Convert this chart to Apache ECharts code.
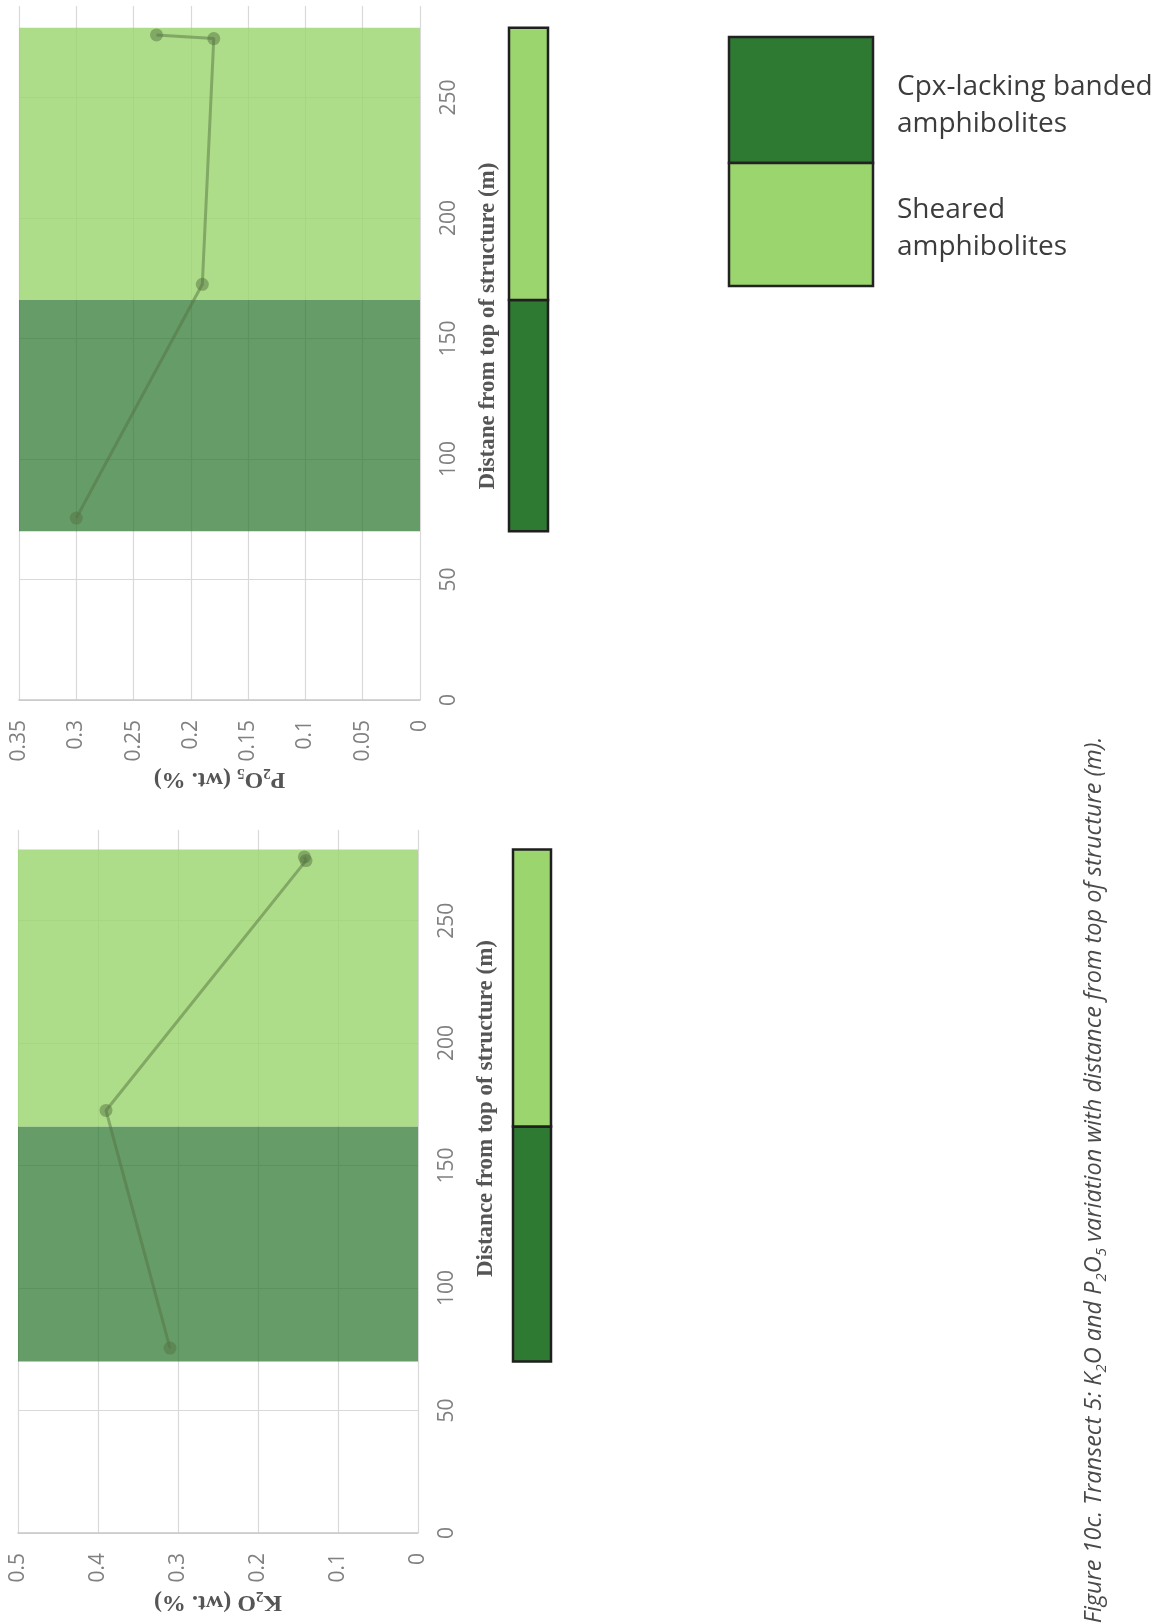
<!DOCTYPE html>
<html>
<head>
<meta charset="utf-8">
<title>Transect 5: K2O and P2O5 vs distance</title>
<script src="https://cdn.jsdelivr.net/npm/echarts@6/dist/echarts.min.js"></script>
<style>
html, body { margin: 0; padding: 0; background: #fff; }
#chart { width: 1169px; height: 1623px; }
</style>
</head>
<body>
<div id="chart"></div>
<script>
// samples along transect 5 (m from top of structure) and oxide contents (wt. %)
var distance = [75.5, 172.5, 274.5, 276];
var k2o = [0.31, 0.39, 0.14, 0.142];
var p2o5 = [0.30, 0.19, 0.18, 0.23];

// lithological units crossed by the transect
var unitNames = ['Cpx-lacking banded amphibolites', 'Sheared amphibolites'];
var unitFrom = [70, 166];
var unitTo = [166, 279];

// axis ticks
var distTicks = [0, 50, 100, 150, 200, 250];
var p2o5Ticks = [0, 0.05, 0.1, 0.15, 0.2, 0.25, 0.3, 0.35];
var k2oTicks = [0, 0.1, 0.2, 0.3, 0.4, 0.5];

var unitColors = ['#2e7a32', '#9bd56e'];
var unitFill = ['rgba(47,122,51,0.74)', 'rgba(155,213,110,0.82)'];
var lineColor = 'rgba(85,115,65,0.5)';
var labelFont = 'Open Sans';
var titleFont = 'Liberation Serif';

var chart = echarts.init(document.getElementById('chart'));

var titleRich = {
  n: { fontFamily: titleFont, fontWeight: 'bold', fontSize: 24, color: '#555', lineHeight: 28 },
  s: { fontFamily: titleFont, fontWeight: 'bold', fontSize: 15, color: '#555', lineHeight: 12, verticalAlign: 'bottom' }
};

// one panel per oxide: plot grid + lithology bar grid
var panels = [
  { plot: { left: 19, top: 6, width: 401, height: 694 }, bar: { left: 509, top: 6, width: 39, height: 694 },
    ticks: p2o5Ticks, distMax: 288, values: p2o5, valueGap: 61, titlePad: 54,
    name: '{n|P}{s|2}{n|O}{s|5}{n| (wt. %)}', distName: 'Distane from top of structure (m)' },
  { plot: { left: 18, top: 830, width: 400, height: 703 }, bar: { left: 513, top: 830, width: 38, height: 703 },
    ticks: k2oTicks, distMax: 287, values: k2o, valueGap: 55, titlePad: 146,
    name: '{n|K}{s|2}{n|O (wt. %)}', distName: 'Distance from top of structure (m)' }
];

var grid = [], xAxis = [], yAxis = [], series = [];

panels.forEach(function (p) {
  var gi = grid.length;
  grid.push(Object.assign({ outerBoundsMode: 'none', containLabel: false }, p.plot));
  grid.push(Object.assign({ outerBoundsMode: 'none', containLabel: false }, p.bar));

  xAxis.push({
    gridIndex: gi, type: 'value', inverse: true,
    min: p.ticks[0], max: p.ticks[p.ticks.length - 1], interval: p.ticks[1] - p.ticks[0],
    axisTick: { show: false },
    axisLine: { show: true, lineStyle: { color: '#c8c8c8', width: 1.5 } },
    splitLine: { show: true, lineStyle: { color: '#d9d9d9', width: 1.2 } },
    axisLabel: { rotate: 90, margin: 20, fontFamily: labelFont, fontSize: 21, color: '#808080' },
    name: p.name, nameLocation: 'middle', nameRotate: 180, nameGap: p.valueGap,
    nameTextStyle: { rich: titleRich }
  });
  xAxis.push({ gridIndex: gi + 1, type: 'value', min: 0, max: 1, show: false });

  yAxis.push({
    gridIndex: gi, type: 'value', position: 'right',
    min: distTicks[0], max: p.distMax, interval: distTicks[1] - distTicks[0],
    axisTick: { show: false },
    axisLine: { show: false },
    splitLine: { show: true, showMaxLine: false, lineStyle: { color: '#d9d9d9', width: 1.2 } },
    axisLabel: { rotate: 90, margin: 19, showMaxLabel: false, fontFamily: labelFont, fontSize: 21, color: '#808080' },
    name: p.distName, nameLocation: 'middle', nameRotate: 90, nameGap: 57,
    nameTextStyle: { fontFamily: titleFont, fontWeight: 'bold', fontSize: 23, color: '#555', padding: [0, 0, 0, p.titlePad] }
  });
  yAxis.push({ gridIndex: gi + 1, type: 'value', min: distTicks[0], max: p.distMax, show: false });

  // translucent unit bands in the plot
  series.push({
    type: 'line', data: [], xAxisIndex: gi, yAxisIndex: gi, z: 1, silent: true,
    markArea: {
      silent: true,
      data: unitFrom.map(function (f, j) {
        return [{ yAxis: f, itemStyle: { color: unitFill[j] } }, { yAxis: unitTo[j] }];
      })
    }
  });
  // lithology bar beside the plot
  series.push({
    type: 'line', data: [], xAxisIndex: gi + 1, yAxisIndex: gi + 1, z: 1, silent: true,
    markArea: {
      silent: true,
      data: unitFrom.map(function (f, j) {
        return [{ yAxis: f, itemStyle: { color: unitColors[j], borderColor: '#1f1f1f', borderWidth: 2.5 } }, { yAxis: unitTo[j] }];
      })
    }
  });
  // oxide profile
  series.push({
    type: 'line', xAxisIndex: gi, yAxisIndex: gi, z: 3,
    data: distance.map(function (d, i) { return [p.values[i], d]; }),
    symbol: 'circle', symbolSize: 13,
    itemStyle: { color: lineColor },
    lineStyle: { color: lineColor, width: 3 }
  });
});

var caption = '{i|Figure 10c. Transect 5: K}{s|2}{i|O and P}{s|2}{i|O}{s|5}{i| variation with distance from top of structure (m).}';

chart.setOption({
  animation: false,
  grid: grid,
  xAxis: xAxis,
  yAxis: yAxis,
  series: series,
  graphic: [
    { type: 'rect', shape: { x: 729, y: 37, width: 144, height: 126 },
      style: { fill: unitColors[0], stroke: '#222', lineWidth: 2.5 } },
    { type: 'rect', shape: { x: 729, y: 163, width: 144, height: 123 },
      style: { fill: unitColors[1], stroke: '#222', lineWidth: 2.5 } },
    { type: 'text', x: 897, y: 106,
      style: { text: unitNames[0].replace(' amphibolites', '\namphibolites'), fontFamily: labelFont, fontSize: 28,
               fill: '#3c3c3c', lineHeight: 37, verticalAlign: 'middle', align: 'left' } },
    { type: 'text', x: 897, y: 229,
      style: { text: unitNames[1].replace(' amphibolites', '\namphibolites'), fontFamily: labelFont, fontSize: 28,
               fill: '#3c3c3c', lineHeight: 37, verticalAlign: 'middle', align: 'left' } },
    { type: 'text', x: 1094, y: 1180, rotation: Math.PI / 2,
      style: { text: caption, align: 'center', verticalAlign: 'middle',
               rich: {
                 i: { fontFamily: labelFont, fontStyle: 'italic', fontSize: 23.5, fill: '#4a4a4a', lineHeight: 30 },
                 s: { fontFamily: labelFont, fontStyle: 'italic', fontSize: 15, fill: '#4a4a4a', lineHeight: 11, verticalAlign: 'bottom' }
               } } }
  ]
});
</script>
</body>
</html>
